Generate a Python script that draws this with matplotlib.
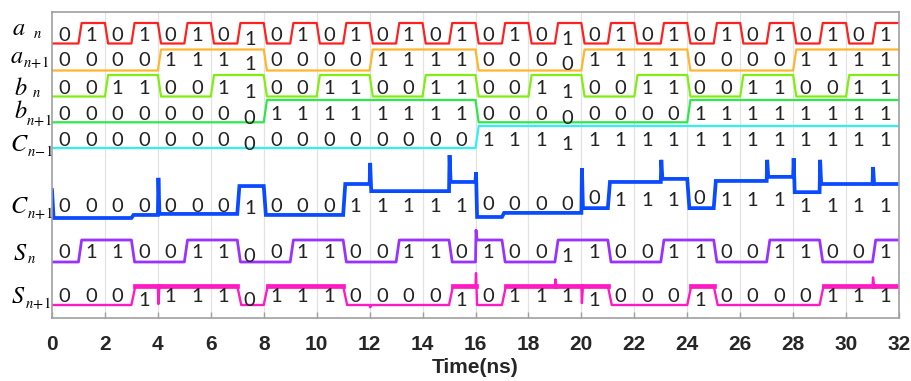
import numpy as np
import matplotlib
matplotlib.use('Agg')
import matplotlib.pyplot as plt
import matplotlib.transforms as mtransforms

# logic levels per 1 ns slot
a_n = [0, 1, 0, 1, 0, 1, 0, 1, 0, 1, 0, 1, 0, 1, 0, 1,
       0, 1, 0, 1, 0, 1, 0, 1, 0, 1, 0, 1, 0, 1, 0, 1]
a_n1 = [0, 0, 0, 0, 1, 1, 1, 1, 0, 0, 0, 0, 1, 1, 1, 1,
        0, 0, 0, 0, 1, 1, 1, 1, 0, 0, 0, 0, 1, 1, 1, 1]
b_n = [0, 0, 1, 1, 0, 0, 1, 1, 0, 0, 1, 1, 0, 0, 1, 1,
       0, 0, 1, 1, 0, 0, 1, 1, 0, 0, 1, 1, 0, 0, 1, 1]
b_n1 = [0, 0, 0, 0, 0, 0, 0, 0, 1, 1, 1, 1, 1, 1, 1, 1,
        0, 0, 0, 0, 0, 0, 0, 0, 1, 1, 1, 1, 1, 1, 1, 1]
c_nm1 = [0, 0, 0, 0, 0, 0, 0, 0, 0, 0, 0, 0, 0, 0, 0, 0,
         1, 1, 1, 1, 1, 1, 1, 1, 1, 1, 1, 1, 1, 1, 1, 1]
c_n1 = [0, 0, 0, 0, 0, 0, 0, 1, 0, 0, 0, 1, 1, 1, 1, 1,
        0, 0, 0, 0, 0, 1, 1, 1, 0, 1, 1, 1, 1, 1, 1, 1]
s_n = [0, 1, 1, 0, 0, 1, 1, 0, 0, 1, 1, 0, 0, 1, 1, 0,
       1, 0, 0, 1, 1, 0, 0, 1, 1, 0, 0, 1, 1, 0, 0, 1]
s_n1 = [0, 0, 0, 1, 1, 1, 1, 0, 1, 1, 1, 0, 0, 0, 0, 1,
        0, 1, 1, 1, 1, 0, 0, 0, 1, 0, 0, 0, 0, 1, 1, 1]

# measured (analog) level of C_n+1 in each slot, normalised units
c_n1_level = [0.00, 0.00, 0.00, 0.09, 0.12, 0.12, 0.12, 0.94,
              0.09, 0.09, 0.09, 1.00, 0.79, 0.79, 0.79, 1.06,
              0.03, 0.15, 0.15, 0.15, 0.29, 1.06, 1.06, 1.15,
              0.29, 1.09, 1.09, 1.21, 0.76, 1.00, 1.00, 1.00]
# switching spikes: time (ns) -> peak level
c_n1_spikes = {0: 0.82, 4: 1.18, 12: 1.62, 15: 1.85, 16: 1.35, 20: 1.47,
               23: 1.71, 27: 1.71, 28: 1.76, 29: 1.71, 31: 1.50}
s_n_spikes = {16: 1.45}
s_n1_spikes = {4: 0.05, 12: -0.12, 16: 1.68, 19: 1.35, 20: 0.10, 31: 1.45}

signal_names = [('a', 'n'), ('a', 'n+1'), ('b', 'n'), ('b', 'n+1'),
                ('C', 'n-1'), ('C', 'n+1'), ('S', 'n'), ('S', 'n+1')]
t_ticks = list(range(0, 33, 2))


def build_trace(levels, spikes=None, edge=0.12):
    spikes = spikes or {}
    xs, ys = [0.0], [levels[0]]
    if 0 in spikes:
        ys = [spikes[0]]
        xs.append(0.06)
        ys.append(levels[0])
    for i in range(1, len(levels)):
        xs.append(i)
        ys.append(levels[i - 1])
        if i in spikes:
            xs += [i + 0.02, i + 0.06]
            ys += [spikes[i], levels[i]]
        elif levels[i] != levels[i - 1]:
            xs.append(i + edge)
            ys.append(levels[i])
    xs.append(len(levels))
    ys.append(levels[-1])
    return np.array(xs), np.array(ys, dtype=float)


plt.rcParams['mathtext.fontset'] = 'stix'

fig = plt.figure(figsize=(9.11, 3.81), dpi=100)
ax = fig.add_axes([52 / 911, 1 - 318 / 381, 847 / 911, 306 / 381])
ax.set_xlim(0, 32)
ax.set_ylim(318, 12)   # y in pixel rows of the figure

lab_tr = mtransforms.blended_transform_factory(fig.transFigure, ax.transData)
digit_font = dict(ha='center', va='center', fontsize=14.5, family=['Lato', 'DejaVu Sans'],
                  color='#222222')

# digital rows: (bits, colour, low row, high row, digit row)
rows = [
    (a_n, '#FF2020', 43.5, 23, 35.5),
    (a_n1, '#FFB62E', 70.5, 49.5, 60),
    (b_n, '#80EE10', 96.5, 75, 88),
    (b_n1, '#2EE84A', 122.3, 100, 115),
    (c_nm1, '#30F0F0', 148, 126, 140),
]
for bits, col, low, high, dy in rows:
    x, lv = build_trace(bits)
    ax.plot(x, low - lv * (low - high), color=col, lw=1.6, solid_joinstyle='round')
    for i, b in enumerate(bits):
        off = 4 if i in (7, 19) else 0
        ax.text(i + 0.47, dy + off, str(b), **digit_font)

# C_n+1 (noisy measured trace)
x, lv = build_trace(c_n1_level, c_n1_spikes, edge=0.08)
ax.plot(x, 218 - lv * 34, color='#0A4BFF', lw=2.7, solid_joinstyle='miter')
c_digit_row = [207] * 16 + [204] * 4 + [199, 201, 201, 201, 199, 201, 201, 201] + [207] * 4
for i, b in enumerate(c_n1):
    off = 2 if i == 7 else 0
    ax.text(i + 0.47, c_digit_row[i] + off, str(b), **digit_font)

# S_n
x, lv = build_trace(s_n, s_n_spikes, edge=0.12)
ax.plot(x, 262 - lv * 22, color='#9A32FF', lw=2.0)
for i, b in enumerate(s_n):
    off = 4 if i in (7, 19) else 0
    ax.text(i + 0.47, 252 + off, str(b), **digit_font)

# S_n+1 (noisy when high)
x, lv = build_trace(s_n1, s_n1_spikes, edge=0.15)
y = 305 - lv * 19
ax.plot(x, y, color='#FF1AC4', lw=1.7)
ax.plot(x, np.where((lv > 0.5) & (lv < 1.2), y, np.nan), color='#FF1AC4', lw=3.4)
for i, b in enumerate(s_n1):
    off = 3 if i in (3, 7, 15, 20, 24) else 0
    ax.text(i + 0.47, 297 + off, str(b), **digit_font)

# row names: letter + subscript (x px, baseline row, sub x px, sub baseline row)
name_pos = [(12, 35, 33, 38), (10, 63, 23, 67), (14, 95, 32, 97), (14, 118, 26, 125),
            (10, 151, 27, 156), (10, 213, 27, 218), (13, 260, 27, 263), (11, 303, 25, 308)]
for (letter, sub), (xm, ym, xs, ys) in zip(signal_names, name_pos):
    ax.text(xm / 911, ym, '$%s$' % letter, transform=lab_tr, fontsize=17.5,
            ha='left', va='baseline')
    sub_tex = sub.replace('+', r'\!+\!').replace('-', r'\!-\!')
    ax.text(xs / 911, ys, '$%s$' % sub_tex, transform=lab_tr, fontsize=10.5,
            ha='left', va='baseline')

# frame, grid and axis
for t in t_ticks[1:-1]:
    ax.axvline(t, color='#E2E2E2', lw=0.9, zorder=0)
for sp in ax.spines.values():
    sp.set_color('#A0A0A0')
    sp.set_linewidth(1.2)
ax.set_xticks(t_ticks)
ax.set_yticks([])
ax.tick_params(axis='x', direction='in', length=4.5, width=1, color='#A0A0A0', pad=12,
               labelsize=15, labelcolor='#262626')
for lab in ax.get_xticklabels():
    lab.set_fontweight('bold')
    lab.set_family('Liberation Sans')
ax.set_xlabel('Time(ns)', fontsize=15, fontweight='bold', family='Liberation Sans',
              color='#262626', labelpad=3)

fig.savefig('out.png', dpi=100)
